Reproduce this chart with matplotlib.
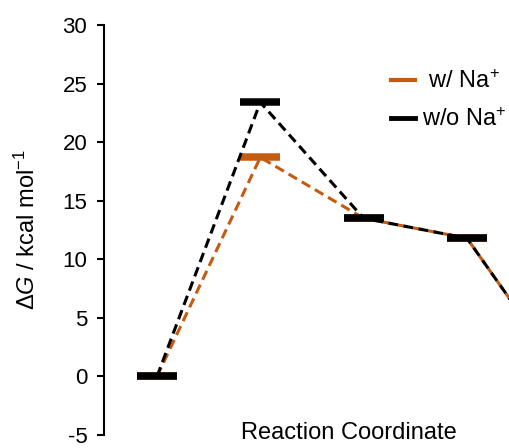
import matplotlib
matplotlib.use('Agg')
import matplotlib.pyplot as plt
from matplotlib.lines import Line2D

plt.rcParams['font.family'] = ['Liberation Sans', 'DejaVu Sans']
plt.rcParams['mathtext.fontset'] = 'custom'
plt.rcParams['mathtext.rm'] = 'Liberation Sans'
plt.rcParams['mathtext.it'] = 'Liberation Sans:italic'
plt.rcParams['axes.unicode_minus'] = False

# free energy profile, kcal/mol
steps = [1, 2, 3, 4, 5]
dg_with_na = [0, 18.7, 13.5, 11.8, -0.7]
dg_without_na = [0, 23.4, 13.5, 11.8, -0.7]
series_labels = [' w/ Na$^{+}$', 'w/o Na$^{+}$']
y_ticks = [-5, 0, 5, 10, 15, 20, 25, 30]

orange = '#C55A11'
black = '#000000'

fig = plt.figure(figsize=(5.10, 4.48), dpi=100)
ax = fig.add_axes([104 / 510, 13 / 448, 406 / 510, 410 / 448])

# dashed connectors through the level centres, with a thick bar at each level
for vals, col, z in [(dg_with_na, orange, 2), (dg_without_na, black, 3)]:
    ax.plot(steps, vals, color=col, lw=2.2, dashes=(3.2, 1.8), zorder=z)
    ax.plot(steps, vals, ls='none', marker='_', ms=29, mew=5.4,
            color=col, zorder=z + 0.5)

ax.set_xlim(0.487, 4.417)
ax.set_ylim(-5, 30)
ax.set_yticks(y_ticks)
ax.set_xticks([])

for s in ['top', 'right', 'bottom']:
    ax.spines[s].set_visible(False)
ax.spines['left'].set_linewidth(1.5)
ax.tick_params(axis='y', direction='out', length=5, width=1.5,
               labelsize=16, pad=7)

ax.set_ylabel(r'$\mathit{\Delta G}$ / kcal mol$^{-1}$', fontsize=17,
              labelpad=16)
ax.text(0.603, 0.006, 'Reaction Coordinate', transform=ax.transAxes,
        ha='center', va='center', fontsize=17)

handles = [Line2D([], [], color=orange, lw=3),
           Line2D([], [], color=black, lw=3.5)]
ax.legend(handles, series_labels, loc='upper left',
          bbox_to_anchor=(0.708, 0.89), frameon=False, fontsize=17,
          handlelength=1.0, handletextpad=0.3, labelspacing=0.63,
          borderpad=0, borderaxespad=0)

fig.savefig('out.png', dpi=100)
